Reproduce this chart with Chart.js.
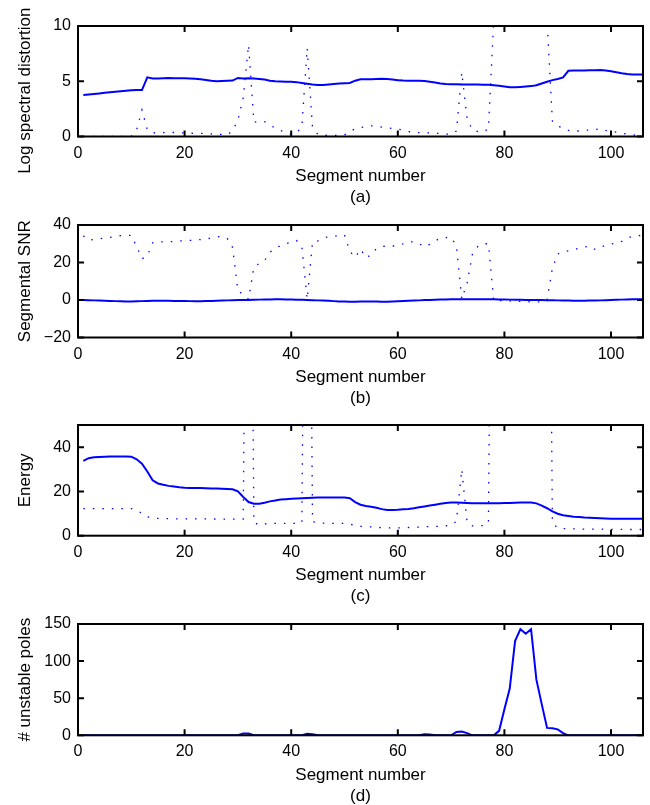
<!DOCTYPE html>
<html><head><meta charset="utf-8">
<script src="https://cdn.jsdelivr.net/npm/chart.js@4.4.1/dist/chart.umd.min.js"></script>
<style>
html,body{margin:0;padding:0;background:#fff;}
body{width:650px;height:805px;position:relative;overflow:hidden;}
canvas{position:absolute;left:0;}
</style></head><body>
<canvas id="pa"></canvas><canvas id="pb"></canvas><canvas id="pc"></canvas><canvas id="pd"></canvas>
<script>
// ---- data ----
const segments = Array.from({length:106},(_, i)=>i+1);
const xTicks = [0,20,40,60,80,100];
const lsdTicks = [0,5,10];
const snrTicks = [-20,0,20,40];
const energyTicks = [0,20,40];
const polesTicks = [0,50,100,150];

const lsdSolid = [3.75,3.8,3.85,3.9,3.95,4.0,4.05,4.1,4.15,4.18,4.2,4.2,5.35,5.25,5.25,5.28,5.3,5.28,5.28,5.28,
5.25,5.22,5.18,5.12,5.05,5.0,5.02,5.05,5.06,5.3,5.25,5.28,5.25,5.2,5.15,5.05,5.0,4.97,4.95,4.95,
4.92,4.85,4.78,4.7,4.65,4.66,4.7,4.75,4.8,4.82,4.85,5.05,5.18,5.18,5.18,5.2,5.22,5.2,5.15,5.1,
5.06,5.04,5.04,5.04,5.02,4.96,4.88,4.8,4.75,4.72,4.72,4.7,4.7,4.7,4.7,4.68,4.68,4.64,4.6,4.52,
4.45,4.45,4.48,4.52,4.56,4.64,4.8,4.95,5.1,5.2,5.35,5.95,5.98,5.98,5.98,6.0,6.0,6.02,5.98,5.9,
5.82,5.72,5.65,5.62,5.62,5.62];
const lsdDotted = [0.02,0.02,0.02,0.02,0.02,0.02,0.02,0.02,0.02,0.02,
0.6,2.4,0.6,0.35,0.3,0.35,0.36,0.36,0.35,0.32,
0.3,0.28,0.28,0.27,0.24,0.2,0.18,0.16,0.5,1.5,
3.5,8.3,1.3,1.35,1.35,1.05,0.75,0.55,0.35,0.2,
0.3,0.9,8.0,0.8,0.2,0.12,0.1,0.1,0.1,0.15,
0.45,0.7,0.8,0.9,0.97,0.92,0.85,0.78,0.72,0.66,
0.58,0.45,0.38,0.35,0.33,0.32,0.3,0.27,0.22,0.2,
0.5,5.8,1.6,0.6,0.45,0.4,0.7,10.5,14,14,
14,14,14,14,14,14,14,10.5,1.4,1.0,
0.7,0.55,0.5,0.5,0.55,0.6,0.62,0.7,0.55,0.45,
0.4,0.3,0.22,0.15,0.1,0.08];
const snrSolid = [0,-0.1,-0.2,-0.3,-0.4,-0.5,-0.6,-0.7,-0.85,-0.8,
-0.7,-0.6,-0.5,-0.45,-0.4,-0.4,-0.45,-0.5,-0.5,-0.55,
-0.6,-0.6,-0.6,-0.55,-0.5,-0.4,-0.3,-0.2,-0.1,0,
0,0.05,0.1,0.2,0.25,0.3,0.35,0.35,0.3,0.25,
0.15,0.1,0,-0.1,-0.2,-0.3,-0.45,-0.6,-0.75,-0.85,
-0.9,-0.9,-0.85,-0.8,-0.8,-0.85,-0.9,-0.9,-0.8,-0.7,
-0.55,-0.4,-0.3,-0.2,-0.05,0.05,0.15,0.25,0.3,0.35,
0.35,0.35,0.35,0.35,0.35,0.35,0.35,0.35,0.3,0.25,
0.2,0.15,0.1,0.05,0,0,-0.05,-0.1,-0.15,-0.2,
-0.25,-0.3,-0.35,-0.35,-0.35,-0.3,-0.25,-0.2,-0.1,0,
0.1,0.2,0.3,0.35,0.35,0.35];
const snrDotted = [34.3,32,32.2,32.7,33,33.4,33.8,34.3,34.5,34.5,
28.5,22,23.5,30.5,31,31,31,31.2,31.5,31.6,
31.8,32,32.2,32.6,33,33.6,34,32.8,28,5,
2.8,0.4,17.5,19.5,21,25.5,27.5,29,30,31,
31.7,28.4,0.4,31,31.5,33,33.7,34,34.4,34.7,
26,22.7,27.1,22.6,24,27.5,28.5,28.8,28.8,28.8,
30,30.8,31.1,30,28.4,29.7,31.5,33,33.3,33.4,
29,0.5,9,24.5,28.5,30,30,-0.5,-0.3,-0.5,
-0.5,-0.6,-0.7,-0.8,-1,-1,-1,0,17,24.5,
25.8,26.2,26.8,27.6,28.3,28.8,27,28,29.2,29.8,
30.3,31.3,32.8,34,34.3,34.5];
const energySolid = [33.8,35,35.4,35.6,35.7,35.8,35.8,35.8,35.8,35.7,
34.5,32.5,29,25,23.6,23,22.5,22.2,21.9,21.7,
21.6,21.5,21.5,21.4,21.3,21.3,21.2,21.1,21,20,
17.5,15.2,14.4,14.4,14.9,15.5,15.9,16.3,16.5,16.7,
16.8,16.9,17,17.1,17.2,17.2,17.3,17.3,17.3,17.2,
16.9,15.2,14,13.4,13.1,12.6,12,11.6,11.6,11.7,
11.9,12.1,12.4,12.8,13.2,13.6,14,14.4,14.8,15,
15,14.9,14.8,14.7,14.7,14.7,14.7,14.7,14.7,14.8,
14.8,14.9,15,15,15,14.6,13.6,12.4,11,9.9,
9.2,8.9,8.6,8.4,8.2,8.1,8,7.9,7.8,7.7,
7.6,7.6,7.6,7.6,7.6,7.6];
const energyDotted = [12.2,12.2,12.2,12.2,12.2,12.2,12.2,12.2,12.2,12.2,
11.5,10.1,8.5,8,7.8,7.7,7.7,7.6,7.6,7.6,
7.6,7.6,7.6,7.6,7.6,7.5,7.5,7.5,7.5,7.5,
7.5,300,6.0,4.8,5.3,5.6,5.6,5.6,5.6,5.6,
5.6,5.8,300,6.3,5.9,5.7,5.6,5.6,5.6,5.6,
5.3,4.4,4.2,4.1,4.0,3.8,3.6,3.5,3.5,3.5,
3.6,3.7,3.8,3.9,4.1,4.1,4.2,4.3,4.5,4.7,
6.5,30,6,4.4,4.4,4.6,5.6,300,300,300,
300,300,300,300,300,300,300,300,6,3.4,
3.2,3.1,3.1,3.0,3.0,3.0,3.0,3.0,2.9,2.9,
2.9,2.9,2.8,2.8,2.8,2.8];
const unstablePoles = [0,0,0,0,0,0,0,0,0,0,
0,0,0,0,0,0,0,0,0,0,
0,0,0,0,0,0,0,0,0,0,
2.5,2.5,0,0,0,0,0,0,0,0,
0,0,2,1.5,0,0,0,0,0,0,
0,0,0,0,0,0,0,0,0,0,
0,0,0,0,1.5,1,0,0,0,0,
4.5,5,3,0,0,0,0,0,6,35,
63,127,143,137,143,75,42,10,9.5,8,
3,0,0,0,0,0,0,0,0,0,
0,0,0,0,0,0];

// ---- layout / style ----
const tickFont = {family:'"Liberation Sans", Arial, Helvetica, sans-serif', size:16};
const titleFont = {family:'"Liberation Sans", Arial, Helvetica, sans-serif', size:17, lineHeight:21/17};

const framePlugin = {
  id:'frame',
  afterDatasetsDraw(chart){
    const {ctx, chartArea:a, scales:{x,y}} = chart;
    ctx.save();
    ctx.strokeStyle = '#000';
    ctx.lineWidth = 2;
    ctx.strokeRect(a.left, a.top, a.right-a.left, a.bottom-a.top);
    const tl = 6;
    ctx.beginPath();
    x.ticks.forEach(t=>{
      const px = x.getPixelForValue(t.value);
      ctx.moveTo(px, a.bottom); ctx.lineTo(px, a.bottom-tl);
      ctx.moveTo(px, a.top); ctx.lineTo(px, a.top+tl);
    });
    y.ticks.forEach(t=>{
      const py = y.getPixelForValue(t.value);
      ctx.moveTo(a.left, py); ctx.lineTo(a.left+tl, py);
      ctx.moveTo(a.right, py); ctx.lineTo(a.right-tl, py);
    });
    ctx.stroke();
    ctx.restore();
  }
};

// trailing spaces keep the long first y label inside the page (it sits a little below centre in the original)
const panels = [
  {id:'pa', canvasTop:0,   plotTop:26,  plotBottom:136.5, yMin:0,   yMax:10,  yTicks:lsdTicks,    yTitle:'Log spectral distortion    ', tag:'(a)',
   series:[{values:lsdSolid},{values:lsdDotted, dotted:true}]},
  {id:'pb', canvasTop:200, plotTop:225, plotBottom:337.5, yMin:-20, yMax:40,  yTicks:snrTicks,    yTitle:'Segmental SNR', tag:'(b)',
   series:[{values:snrSolid},{values:snrDotted, dotted:true}]},
  {id:'pc', canvasTop:400, plotTop:425, plotBottom:535.7, yMin:0,   yMax:50,  yTicks:energyTicks, yTitle:'Energy', tag:'(c)',
   series:[{values:energySolid},{values:energyDotted, dotted:true}]},
  {id:'pd', canvasTop:598, plotTop:624, plotBottom:735.3, yMin:0,   yMax:150, yTicks:polesTicks,  yTitle:'# unstable poles', tag:'(d)',
   series:[{values:unstablePoles}]}
];

const fmt = v => v < 0 ? '\u2212' + Math.abs(v) : String(v);

panels.forEach(p=>{
  const cv = document.getElementById(p.id);
  const xH = 71.5;
  const inner = p.plotBottom - p.canvasTop;
  const H = Math.ceil(inner + xH);
  cv.width = 650; cv.height = H;
  cv.style.top = p.canvasTop + 'px';
  cv.style.width = '650px'; cv.style.height = H + 'px';
  new Chart(cv, {
    type:'line',
    data:{datasets: p.series.map(s=>({
      data: segments.map((x,i)=>({x:x, y:s.values[i]})),
      borderColor:'#0000ff',
      borderWidth: s.dotted ? 1.3 : 2,
      borderDash: s.dotted ? [1.5, 8] : [],
      pointRadius:0, tension:0, fill:false
    }))},
    options:{
      responsive:false, animation:false, devicePixelRatio:1,
      layout:{padding:{top:p.plotTop - p.canvasTop, left:0, right:7, bottom:H - inner - xH}},
      plugins:{legend:{display:false}, tooltip:{enabled:false}},
      scales:{
        x:{type:'linear', min:0, max:106,
           afterBuildTicks: s=>{ s.ticks = xTicks.map(v=>({value:v})); },
           afterFit: s=>{ s.height = xH; },
           grid:{display:false, drawTicks:false}, border:{display:false},
           ticks:{padding:7, font:tickFont, color:'#000', maxRotation:0, autoSkip:false, callback:fmt},
           title:{display:true, text:['Segment number', p.tag], font:titleFont, color:'#000', padding:{top:0, bottom:0}}},
        y:{type:'linear', min:p.yMin, max:p.yMax,
           afterBuildTicks: s=>{ s.ticks = p.yTicks.map(v=>({value:v})); },
           afterFit: s=>{ s.width = 78; },
           grid:{display:false, drawTicks:false}, border:{display:false},
           ticks:{padding:7, font:tickFont, color:'#000', autoSkip:false, callback:fmt},
           title:{display:true, text:p.yTitle, font:titleFont, color:'#000', padding:{top:15, bottom:0}}}
      }
    },
    plugins:[framePlugin]
  });
});
</script>
</body></html>
